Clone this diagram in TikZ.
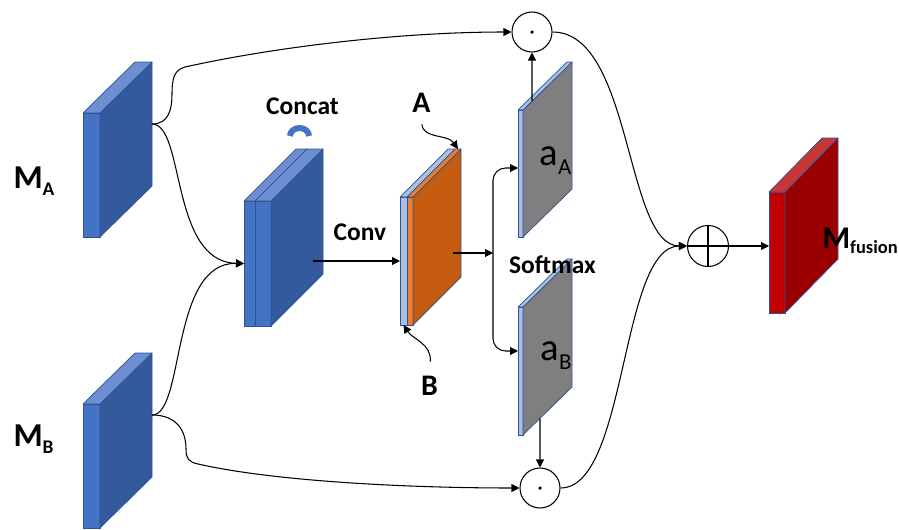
\documentclass[tikz,border=0pt]{standalone}
\usepackage{fontspec}
\setmainfont{Carlito}
\usetikzlibrary{arrows.meta,calc}
\definecolor{bluefront}{HTML}{4472C4}
\definecolor{blueside}{HTML}{345A9E}
\definecolor{bluetop}{HTML}{6C8FD2}
\definecolor{slabedge}{HTML}{2F528F}
\definecolor{paleblue}{HTML}{A9BFE4}
\definecolor{orangefront}{HTML}{ED7D31}
\definecolor{orangeside}{HTML}{C55A11}
\definecolor{grayside}{HTML}{7F7F7F}
\definecolor{redfront}{HTML}{C00000}
\definecolor{redside}{HTML}{9A0000}
\definecolor{redtop}{HTML}{C83737}

\begin{document}
\begin{tikzpicture}[>={Triangle[length=1.6mm,width=1.6mm]},line width=0.6pt,slab/.style={draw=slabedge,line width=0.4pt,inner sep=0,outer sep=0,anchor=south west},face/.style={draw=slabedge,line width=0.4pt,line join=round},op/.style={draw,circle,minimum size=0.8cm,inner sep=0},tag/.style={font=\bfseries\fontsize{14.5}{17}\selectfont,anchor=base},big/.style={font=\bfseries\fontsize{19}{22}\selectfont,anchor=base west,inner sep=0}]
\useasboundingbox (0,0) rectangle (17.98,10.58);
% input maps
\node[slab,fill=bluefront,minimum width=0.34cm,minimum height=2.48cm] (ma) at (1.66,5.84) {};
\filldraw[face,fill=blueside] (ma.north east) -- ++(1.04,1.02) -- ++(0,-2.48) -- (ma.south east) -- cycle;
\filldraw[face,fill=bluetop] (ma.north west) -- (ma.north east) -- ++(1.04,1.02) -- ++(-0.34,0) -- cycle;
\node[slab,fill=bluefront,minimum width=0.34cm,minimum height=2.48cm] (mb) at (1.66,0.02) {};
\filldraw[face,fill=blueside] (mb.north east) -- ++(1.04,1.02) -- ++(0,-2.48) -- (mb.south east) -- cycle;
\filldraw[face,fill=bluetop] (mb.north west) -- (mb.north east) -- ++(1.04,1.02) -- ++(-0.34,0) -- cycle;
% concat block
\node[slab,fill=bluefront,minimum width=0.22cm,minimum height=2.5cm] (cat) at (4.88,4.06) {};
\node[slab,fill=bluefront,minimum width=0.32cm,minimum height=2.5cm] (cat2) at (cat.south east) {};
\filldraw[face,fill=blueside] (cat2.north east) -- ++(1.04,1.04) -- ++(0,-2.5) -- (cat2.south east) -- cycle;
\filldraw[face,fill=bluetop] (cat.north west) -- (cat.north east) -- ++(1.04,1.04) -- ++(-0.22,0) -- cycle;
\filldraw[face,fill=bluetop] (cat2.north west) -- (cat2.north east) -- ++(1.04,1.04) -- ++(-0.32,0) -- cycle;
\draw[bluefront,line width=3.4pt] (5.80,7.86) arc[start angle=180,end angle=0,x radius=0.19cm,y radius=0.16cm];
% conv output
\node[slab,fill=paleblue,minimum width=0.14cm,minimum height=2.56cm] (org) at (8.00,4.08) {};
\node[slab,fill=orangefront,minimum width=0.12cm,minimum height=2.56cm] (org2) at (org.south east) {};
\filldraw[face,fill=orangeside] (org2.north east) -- ++(0.96,0.96) -- ++(0,-2.56) -- (org2.south east) -- cycle;
\filldraw[face,fill=paleblue] (org.north west) -- (org.north east) -- ++(0.96,0.96) -- ++(-0.14,0) -- cycle;
\filldraw[face,fill=orangefront] (org2.north west) -- (org2.north east) -- ++(0.96,0.96) -- ++(-0.12,0) -- cycle;
% attention maps
\node[slab,fill=paleblue,minimum width=0.1cm,minimum height=2.54cm] (aa) at (10.36,5.84) {};
\filldraw[face,fill=grayside] (aa.north east) -- ++(0.98,0.96) -- ++(0,-2.54) -- (aa.south east) -- cycle;
\filldraw[face,fill=paleblue] (aa.north west) -- (aa.north east) -- ++(0.98,0.96) -- ++(-0.1,0) -- cycle;
\node[slab,fill=paleblue,minimum width=0.1cm,minimum height=2.56cm] (ab) at (10.36,1.88) {};
\filldraw[face,fill=grayside] (ab.north east) -- ++(0.98,0.96) -- ++(0,-2.56) -- (ab.south east) -- cycle;
\filldraw[face,fill=paleblue] (ab.north west) -- (ab.north east) -- ++(0.98,0.96) -- ++(-0.1,0) -- cycle;
% fused map
\node[slab,fill=redfront,minimum width=0.32cm,minimum height=2.42cm] (fus) at (15.38,4.32) {};
\filldraw[face,fill=redside] (fus.north east) -- ++(1.06,1.08) -- ++(0,-2.42) -- (fus.south east) -- cycle;
\filldraw[face,fill=redtop] (fus.north west) -- (fus.north east) -- ++(1.06,1.08) -- ++(-0.32,0) -- cycle;
% operators
\node[op,path picture={\fill (path picture bounding box.center) circle (1pt);}] (otop) at (10.64,9.94) {};
\node[op,path picture={\fill (path picture bounding box.center) circle (1pt);}] (obot) at (10.80,0.82) {};
\node[op,minimum size=0.82cm,path picture={\draw (path picture bounding box.north) -- (path picture bounding box.south) (path picture bounding box.west) -- (path picture bounding box.east);}] (sum) at (14.16,5.66) {};
\coordinate (ma-out) at ($(ma.north east)+(1.04,-0.22)$);
\coordinate (mb-out) at ($(mb.north east)+(1.04,-0.22)$);
\coordinate (cat-out) at ($(cat2.east)+(0.84,0.05)$);
\coordinate (org-out) at ($(org2.east)+(0.80,0.16)$);
\coordinate (split) at ($(org-out)+(0.80,0)$);
\coordinate (org-top) at ($(org2.north)+(0.96,0.96)$);
\coordinate (aa-in) at ($(aa.west)+(0,0.11)$);
\coordinate (ab-in) at ($(ab.west)+(0,0.40)$);
\coordinate (aa-top) at ($(aa.north east)+(0.18,0.18)$);
\coordinate (ab-bot) at ($(ab.south east)+(0.34,0.33)$);
% connectors
\draw[->] (ma-out) .. controls (3.38,8.10) and (3.44,8.40) .. (3.44,8.70) .. controls (3.44,9.05) and (3.50,9.18) .. (3.70,9.24) .. controls (5.5,9.64) and (8.0,9.94) .. (otop.west);
\draw[->] (ma-out) .. controls (3.70,8.10) and (3.40,5.34) .. (cat.west);
\draw[->] (mb-out) .. controls (3.70,2.28) and (3.40,5.34) .. (cat.west);
\draw[->] (mb-out) .. controls (3.55,2.28) and (3.72,1.95) .. (3.72,1.60) .. controls (3.72,1.40) and (3.78,1.34) .. (3.96,1.30) .. controls (5.5,0.95) and (8.2,0.82) .. (obot.west);
\draw[->] (cat-out) -- (cat-out -| org.west);
\draw[->] (org-out) -- (split);
\draw[->,rounded corners=0.25cm] (split) |- (aa-in);
\draw[->,rounded corners=0.25cm] (split) |- (ab-in);
\draw[->] (aa-top) -- (otop.south);
\draw[->] (ab-bot) -- (obot.north);
\draw[->] (otop.east) .. controls (12.65,9.94) and (12.50,5.66) .. (sum.west);
\draw[->] (obot.east) .. controls (12.55,0.82) and (12.40,5.66) .. (sum.west);
\draw[->] (sum.east) -- (sum.east -| fus.west);
% labels
\node[big] (lma) at (0.26,6.82) {M\raisebox{-4.5pt}{\fontsize{11}{13}\selectfont A}};
\node[big] (lmb) at (0.26,1.66) {M\raisebox{-4.5pt}{\fontsize{11}{13}\selectfont B}};
\node[big,font=\bfseries\fontsize{18}{21}\selectfont] (lfus) at (16.44,5.62) {M\raisebox{-3pt}{\fontsize{10.5}{12}\selectfont fusion}};
\node[tag] (lcat) at (6.05,8.30) {Concat};
\node[tag] (lconv) at (7.20,5.78) {Conv};
\node[tag] (lsoft) at (11.05,5.12) {Softmax};
\node[tag,font=\bfseries\fontsize{17}{20}\selectfont] (la) at (8.43,8.34) {A};
\node[tag,font=\bfseries\fontsize{17}{20}\selectfont] (lb) at (8.59,2.68) {B};
\node[anchor=base west,inner sep=0,font=\fontsize{22}{26}\selectfont] (laa) at (10.78,7.28) {a\raisebox{-5.5pt}{\fontsize{13}{15}\selectfont A}};
\node[anchor=base west,inner sep=0,font=\fontsize{22}{26}\selectfont] (lab) at (10.80,3.38) {a\raisebox{-5.5pt}{\fontsize{13}{15}\selectfont B}};
\draw[->,shorten <=3.4pt] (la.south) .. controls (8.46,7.80) and (8.95,7.90) .. (org-top);
\draw[->,shorten <=4.3pt] (lb.north) .. controls (8.64,3.70) and (8.25,3.80) .. (org.south);
\end{tikzpicture}
\end{document}
